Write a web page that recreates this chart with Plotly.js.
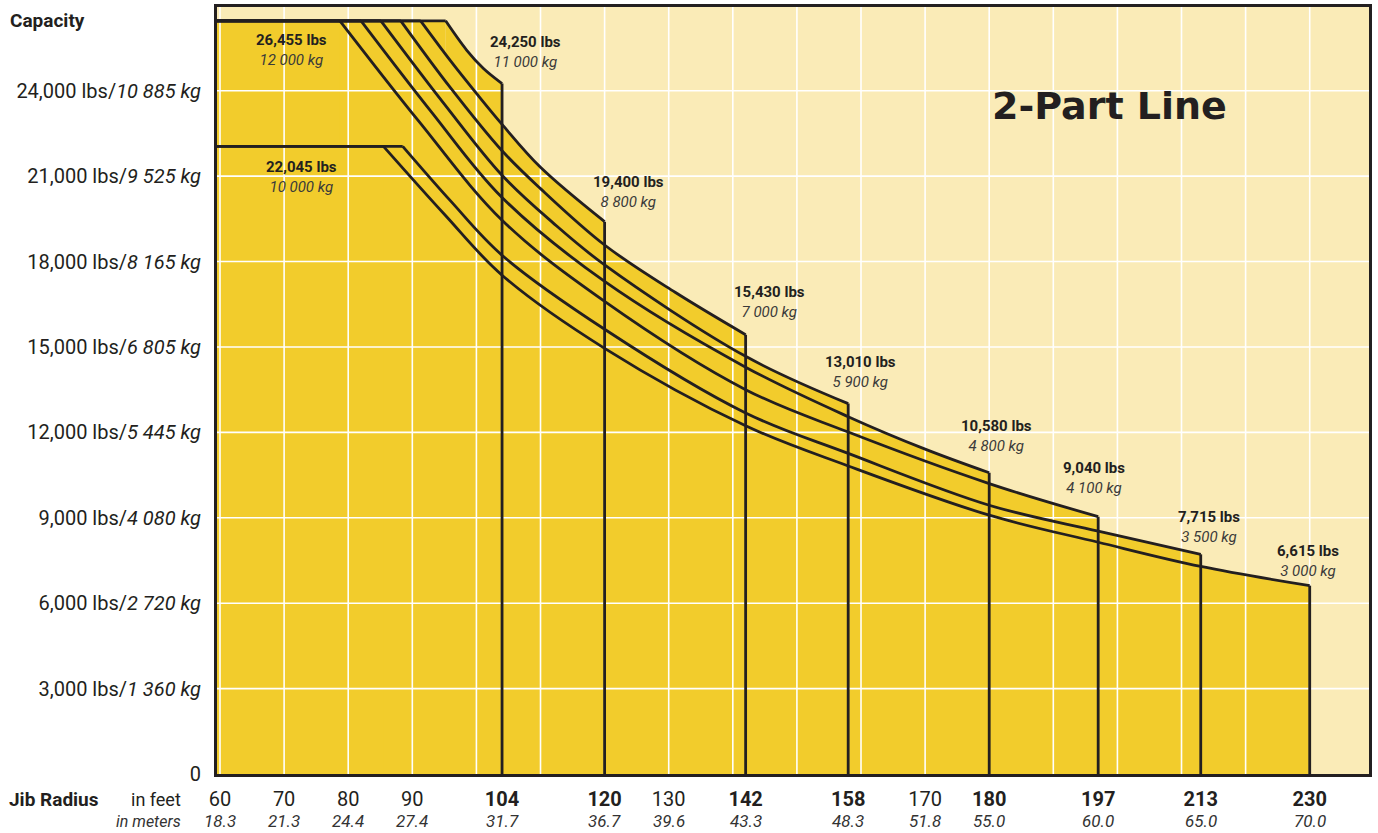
<!DOCTYPE html>
<html><head><meta charset="utf-8">
<script src="https://cdn.plot.ly/plotly-3.0.1.min.js"></script>
<style>html,body{margin:0;padding:0;background:#fff}#chart{width:1378px;height:833px}</style>
</head><body><div id="chart"></div>
<script>
// ---------- data ----------
const jibFeet        = [104, 120, 142, 158, 180, 197, 213, 230];
const maxLoadLbs     = [26455, 26455, 26455, 26455, 26455, 26455, 22045, 22045];
const curveStartFeet = [95.2, 91.3, 88.2, 85.1, 82.0, 78.7, 88.5, 85.5];
const endLoadLbs     = [24250, 19400, 15430, 13010, 10580, 9040, 7715, 6615];
const endLoadLbsText = ['24,250 lbs','19,400 lbs','15,430 lbs','13,010 lbs','10,580 lbs','9,040 lbs','7,715 lbs','6,615 lbs'];
const endLoadKgText  = ['11 000 kg','8 800 kg','7 000 kg','5 900 kg','4 800 kg','4 100 kg','3 500 kg','3 000 kg'];
const topLoadLbs     = [26455, 22045];
const topLoadLbsText = ['26,455 lbs','22,045 lbs'];
const topLoadKgText  = ['12 000 kg','10 000 kg'];

// readings along each load curve (radius ft / capacity lbs)
const radius104 = [98.5, 101.1];
const load104   = [25420, 24780];
const radius120 = [96, 100, 104, 110];
const load120   = [25040, 23910, 22820, 21310];
const radius142 = [96, 104, 110, 120, 131];
const load142   = [24090, 21890, 20560, 18580, 16920];
const radius158 = [95, 104, 112, 120, 142];
const load158   = [23530, 21030, 19350, 17880, 14670];
const radius180 = [93, 104, 120, 142, 158, 170];
const load180   = [23250, 20250, 17300, 14290, 12550, 11410];
const radius197 = [91, 104, 120, 142, 158, 180];
const load197   = [22930, 19450, 16600, 13500, 12010, 10200];
const radius213 = [96, 104, 120, 142, 158, 180, 197];
const load213   = [20120, 18220, 15620, 12680, 11260, 9440, 8530];
const radius230 = [95, 104, 120, 142, 158, 180, 197, 213];
const load230   = [19660, 17520, 14950, 12230, 10820, 9090, 8140, 7290];

// axis ticks
const feetTicks  = [60, 70, 80, 90, 104, 120, 130, 142, 158, 170, 180, 197, 213, 230];
const feetBold   = [104, 120, 142, 158, 180, 197, 213, 230];
const meterTicks = ['18.3','21.3','24.4','27.4','31.7','36.7','39.6','43.3','48.3','51.8','55.0','60.0','65.0','70.0'];
const gridFeet   = [60, 70, 80, 90, 100, 110, 120, 130, 140, 150, 160, 170, 180, 190, 200, 210, 220, 230];
const lbsTicks   = [0, 3000, 6000, 9000, 12000, 15000, 18000, 21000, 24000];
const lbsTickText= ['0','3,000 lbs','6,000 lbs','9,000 lbs','12,000 lbs','15,000 lbs','18,000 lbs','21,000 lbs','24,000 lbs'];
const kgTickText = ['','1 360 kg','2 720 kg','4 080 kg','5 445 kg','6 805 kg','8 165 kg','9 525 kg','10 885 kg'];

// ---------- style ----------
const X_RANGE = [59.53, 239.25];
const Y_RANGE = [0, 26940];
const FILL = '#F2CC2C', BG = '#FAEBB7', INK = '#231F20', GRID = '#FFFFFF';
const NARROW = 'Roboto, "Liberation Sans", sans-serif';
const topLabelOffsets = [[71, -29], [81, -31]];
const endLabelOffsets = [[23, 32], [24, 30], [24, 33], [12, 32], [7, 37], [-4, 39], [8, 27], [-2, 25]];

const curveR = [radius104, radius120, radius142, radius158, radius180, radius197, radius213, radius230];
const curveL = [load104, load120, load142, load158, load180, load197, load213, load230];

const traces = [];
// fills
jibFeet.forEach((L, i) => {
  traces.push({x: [X_RANGE[0], curveStartFeet[i]], y: [maxLoadLbs[i], maxLoadLbs[i]], mode: 'lines',
    fill: 'tozeroy', fillcolor: FILL, line: {width: 0, color: 'rgba(0,0,0,0)'}, hoverinfo: 'skip'});
  traces.push({x: [curveStartFeet[i], ...curveR[i], L], y: [maxLoadLbs[i], ...curveL[i], endLoadLbs[i]],
    mode: 'lines', line: {shape: 'spline', smoothing: 1, width: 0, color: 'rgba(0,0,0,0)'},
    fill: 'tozeroy', fillcolor: FILL, hoverinfo: 'skip'});
});
// white grid
const gx = [], gy = [];
gridFeet.forEach(v => { gx.push(v, v, null); gy.push(Y_RANGE[0], Y_RANGE[1], null); });
lbsTicks.slice(1).forEach(v => { gx.push(X_RANGE[0], X_RANGE[1], null); gy.push(v, v, null); });
traces.push({x: gx, y: gy, mode: 'lines', line: {color: GRID, width: 1.6}, hoverinfo: 'skip'});
// black outlines
jibFeet.forEach((L, i) => {
  traces.push({x: [X_RANGE[0], curveStartFeet[i]], y: [maxLoadLbs[i], maxLoadLbs[i]], mode: 'lines',
    line: {color: INK, width: 2.8}, hoverinfo: 'skip'});
  traces.push({x: [curveStartFeet[i], ...curveR[i], L], y: [maxLoadLbs[i], ...curveL[i], endLoadLbs[i]],
    mode: 'lines', line: {shape: 'spline', smoothing: 1, color: INK, width: 2.8}, hoverinfo: 'skip'});
  traces.push({x: [L, L], y: [endLoadLbs[i], 0], mode: 'lines', line: {color: INK, width: 2.8}, hoverinfo: 'skip'});
});

const annotations = [];
const loadLabel = (lbs, kg) => '<b>' + lbs + '</b><br><i><span style="color:#3a3a3a">' + kg + '</span></i>';
topLoadLbs.forEach((v, i) => annotations.push({x: feetTicks[0], y: v, xref: 'x', yref: 'y', showarrow: false,
  text: loadLabel(topLoadLbsText[i], topLoadKgText[i]), xshift: topLabelOffsets[i][0], yshift: topLabelOffsets[i][1],
  font: {family: NARROW, size: 15, color: INK}}));
jibFeet.forEach((L, i) => annotations.push({x: L, y: endLoadLbs[i], xref: 'x', yref: 'y', showarrow: false,
  text: loadLabel(endLoadLbsText[i], endLoadKgText[i]), xshift: endLabelOffsets[i][0], yshift: endLabelOffsets[i][1],
  font: {family: NARROW, size: 15, color: INK}}));
meterTicks.forEach((m, i) => annotations.push({x: feetTicks[i], y: 0, xref: 'x', yref: 'paper', yanchor: 'middle',
  yshift: -47, showarrow: false, text: '<i>' + m + '</i>', font: {family: NARROW, size: 17, color: '#333'}}));
annotations.push({x: -0.1814, y: 0.983, xref: 'paper', yref: 'paper', xanchor: 'left', yanchor: 'middle', showarrow: false,
  text: '<b>Capacity</b>', font: {family: NARROW, size: 19, color: INK}});
annotations.push({x: -0.1823, y: 0, xref: 'paper', yref: 'paper', xanchor: 'left', yanchor: 'middle', yshift: -25, showarrow: false,
  text: '<b>Jib Radius</b>', font: {family: NARROW, size: 19, color: INK}});
annotations.push({x: -0.0295, y: 0, xref: 'paper', yref: 'paper', xanchor: 'right', yanchor: 'middle', yshift: -25, showarrow: false,
  text: 'in feet', font: {family: NARROW, size: 18, color: INK}});
annotations.push({x: -0.0295, y: 0, xref: 'paper', yref: 'paper', xanchor: 'right', yanchor: 'middle', yshift: -47, showarrow: false,
  text: '<i>in meters</i>', font: {family: NARROW, size: 16, color: '#333'}});
annotations.push({x: 0.775, y: 0.871, xref: 'paper', yref: 'paper', xanchor: 'center', yanchor: 'middle', showarrow: false,
  text: '<b>2-Part Line</b>', font: {family: '"DejaVu Sans", sans-serif', size: 38, color: INK}});

const layout = {
  width: 1378, height: 833,
  margin: {l: 217, r: 9, t: 7, b: 59},
  paper_bgcolor: '#FFFFFF', plot_bgcolor: BG,
  showlegend: false, hovermode: false,
  xaxis: {range: X_RANGE, showgrid: false, zeroline: false, showline: true, mirror: true, linecolor: INK, linewidth: 3,
    ticks: '', tickvals: feetTicks,
    ticktext: feetTicks.map(v => feetBold.includes(v) ? '<b>' + v + '</b>' : String(v)),
    tickfont: {family: NARROW, size: 20, color: INK}, ticklabelstandoff: 5},
  yaxis: {range: Y_RANGE, showgrid: false, zeroline: false, showline: true, mirror: true, linecolor: INK, linewidth: 3,
    ticks: '', tickvals: lbsTicks,
    ticktext: lbsTickText.map((t, i) => kgTickText[i] ? t + '/<i>' + kgTickText[i] + '</i>' : t),
    tickfont: {family: NARROW, size: 20, color: INK}, ticklabelstandoff: 9},
  annotations: annotations
};
Plotly.newPlot('chart', traces, layout, {staticPlot: true, displayModeBar: false});
</script>
</body></html>
